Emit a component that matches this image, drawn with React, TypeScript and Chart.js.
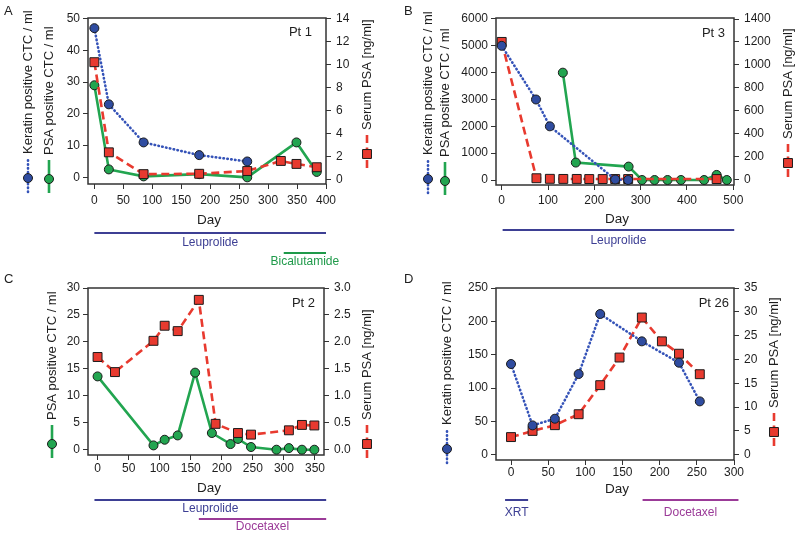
import React, { useEffect, useRef } from 'react';
import { Chart, registerables } from 'chart.js';
Chart.register(...registerables);

// ---------------- DATA ----------------
// Panel A (Pt 1)
const aKerDays = [0, 25, 85, 181, 264];
const aKerVals = [47, 23, 11, 7, 5];
const aPsaDays = [0, 25, 85, 181, 264, 349, 384];
const aPsaVals = [29, 2.5, 0.3, 1.0, 0, 11, 1.7];
const aSerDays = [0, 25, 85, 181, 264, 322, 349, 384];
const aSerVals = [10.2, 2.35, 0.45, 0.48, 0.72, 1.6, 1.34, 1.05];
const aXTicks = [0, 50, 100, 150, 200, 250, 300, 350, 400];
const aYLTicks = [0, 10, 20, 30, 40, 50];
const aYRTicks = [0, 2, 4, 6, 8, 10, 12, 14];
const aTreatNames = ['Leuprolide', 'Bicalutamide'];
const aTreatStart = [0, 327];
const aTreatEnd = [400, 400];

// Panel B (Pt 3)
const bKerDays = [0, 74, 104, 245, 273];
const bKerVals = [5000, 3000, 2000, 20, 0];
const bPsaDays = [132, 160, 274, 303, 330, 358, 387, 437, 464, 486];
const bPsaVals = [4000, 650, 500, 0, 0, 0, 0, 0, 190, 0];
const bSerDays = [0, 75, 104, 133, 162, 189, 218, 245, 273, 464];
const bSerVals = [1200, 9, 4, 3, 3, 2, 2, 2, 2, 2];
const bXTicks = [0, 100, 200, 300, 400, 500];
const bYLTicks = [0, 1000, 2000, 3000, 4000, 5000, 6000];
const bYRTicks = [0, 200, 400, 600, 800, 1000, 1200, 1400];
const bTreatNames = ['Leuprolide'];
const bTreatStart = [2];
const bTreatEnd = [502];

// Panel C (Pt 2)
const cPsaDays = [0, 90, 108, 129, 157, 184, 214, 226, 247, 288, 308, 329, 349];
const cPsaVals = [13.6, 0.8, 1.85, 2.65, 14.3, 3.1, 1.05, 2.0, 0.5, 0, 0.3, 0, 0];
const cSerDays = [0, 28, 90, 108, 129, 163, 190, 226, 247, 308, 329, 349];
const cSerVals = [1.72, 1.44, 2.02, 2.3, 2.2, 2.78, 0.48, 0.31, 0.28, 0.36, 0.46, 0.45];
const cXTicks = [0, 50, 100, 150, 200, 250, 300, 350];
const cYLTicks = [0, 5, 10, 15, 20, 25, 30];
const cYRTicks = [0, 0.5, 1.0, 1.5, 2.0, 2.5, 3.0];
const cTreatNames = ['Leuprolide', 'Docetaxel'];
const cTreatStart = [-5, 163];
const cTreatEnd = [368, 368];

// Panel D (Pt 26)
const dKerDays = [0, 29, 59, 91, 120, 176, 226, 254];
const dKerVals = [136, 44, 54, 121, 211, 170, 138, 80];
const dSerDays = [0, 29, 59, 91, 120, 146, 176, 203, 226, 254];
const dSerVals = [3.7, 5.0, 6.2, 8.5, 14.6, 20.4, 28.8, 23.8, 21.2, 16.9];
const dXTicks = [0, 50, 100, 150, 200, 250, 300];
const dYLTicks = [0, 50, 100, 150, 200, 250];
const dYRTicks = [0, 5, 10, 15, 20, 25, 30, 35];
const dTreatNames = ['XRT', 'Docetaxel'];
const dTreatStart = [-8, 177];
const dTreatEnd = [23, 306];

// ---------------- STYLE ----------------
const FONT = '"Liberation Sans", Arial, Helvetica, sans-serif';
const TXT = '#1e1e1e';
const AXC = '#333333';
const T_BLUE = '#3d3f94';
const T_GREEN = '#1f9a4a';
const T_PURPLE = '#9b3b98';

const STYLE: any = {
  ker: { line: '#3553b8', fill: '#2f4ca0', dash: [0.5, 3.4], cap: 'round', shape: 'circle', r: 4.5, w: 2.6 },
  psa: { line: '#22a550', fill: '#22a550', dash: [], cap: 'butt', shape: 'circle', r: 4.5, w: 2.6 },
  ser: { line: '#e83a2f', fill: '#e83a2f', dash: [8, 4.5], cap: 'butt', shape: 'rect', r: 6.3, w: 2.6 },
};

const TITLE_KER = 'Keratin positive CTC / ml';
const TITLE_PSA = 'PSA positive CTC / ml';
const TITLE_SER = 'Serum PSA [ng/ml]';

function treat(names: string[], starts: number[], ends: number[], colors: string[], lineYs: number[], labelYs: number[]) {
  return names.map((n, i) => ({ name: n, start: starts[i], end: ends[i], color: colors[i], lineY: lineYs[i], labelY: labelYs[i] }));
}

const panels: any[] = [
  {
    letter: 'A', left: 0, top: 0, W: 400, H: 268,
    area: { l: 88, t: 18, r: 326, b: 184 },
    x: { min: -11, max: 400, ticks: aXTicks }, xPad: 4,
    yL: { min: -2.1, max: 50.2, ticks: aYLTicks, dec: 0 },
    yR: { min: -0.41, max: 14.05, ticks: aYRTicks, dec: 0 },
    series: [
      { kind: 'ker', days: aKerDays, vals: aKerVals },
      { kind: 'ser', days: aSerDays, vals: aSerVals },
      { kind: 'psa', days: aPsaDays, vals: aPsaVals },
    ],
    leftTitles: [
      { text: TITLE_KER, kind: 'ker', x: 28, bottom: 192 },
      { text: TITLE_PSA, kind: 'psa', x: 49, bottom: 193 },
    ],
    rightTitle: { text: TITLE_SER, kind: 'ser', x: 367, bottom: 168 },
    pt: { text: 'Pt 1', dx: 14, dy: 14 },
    day: { x: 209, y: 220 },
    treatments: treat(aTreatNames, aTreatStart, aTreatEnd, [T_BLUE, T_GREEN], [233, 253], [243, 262]),
  },
  {
    letter: 'B', left: 400, top: 0, W: 400, H: 268,
    area: { l: 96, t: 18, r: 334, b: 185 },
    x: { min: -12.3, max: 501.5, ticks: bXTicks }, xPad: 3,
    yL: { min: -186, max: 6037, ticks: bYLTicks, dec: 0 },
    yR: { min: -50, max: 1409, ticks: bYRTicks, dec: 0 },
    series: [
      { kind: 'ker', days: bKerDays, vals: bKerVals },
      { kind: 'ser', days: bSerDays, vals: bSerVals },
      { kind: 'psa', days: bPsaDays, vals: bPsaVals },
    ],
    leftTitles: [
      { text: TITLE_KER, kind: 'ker', x: 28, bottom: 193 },
      { text: TITLE_PSA, kind: 'psa', x: 45, bottom: 195 },
    ],
    rightTitle: { text: TITLE_SER, kind: 'ser', x: 388, bottom: 177 },
    pt: { text: 'Pt 3', dx: 9, dy: 15 },
    day: { x: 217, y: 219 },
    treatments: treat(bTreatNames, bTreatStart, bTreatEnd, [T_BLUE], [230], [241]),
  },
  {
    letter: 'C', left: 0, top: 268, W: 400, H: 269,
    area: { l: 88, t: 20, r: 324, b: 187 },
    x: { min: -15.4, max: 364.5, ticks: cXTicks }, xPad: 1,
    yL: { min: -0.98, max: 30, ticks: cYLTicks, dec: 0 },
    yR: { min: -0.098, max: 3.0, ticks: cYRTicks, dec: 1 },
    series: [
      { kind: 'ser', days: cSerDays, vals: cSerVals },
      { kind: 'psa', days: cPsaDays, vals: cPsaVals },
    ],
    leftTitles: [
      { text: TITLE_PSA, kind: 'psa', x: 52, bottom: 190 },
    ],
    rightTitle: { text: TITLE_SER, kind: 'ser', x: 367, bottom: 190 },
    pt: { text: 'Pt 2', dx: 9, dy: 15 },
    day: { x: 209, y: 220 },
    treatments: treat(cTreatNames, cTreatStart, cTreatEnd, [T_BLUE, T_PURPLE], [232, 251], [241, 259]),
  },
  {
    letter: 'D', left: 400, top: 268, W: 400, H: 269,
    area: { l: 96, t: 20, r: 334, b: 192 },
    x: { min: -20.2, max: 300, ticks: dXTicks }, xPad: 0,
    yL: { min: -7.9, max: 250, ticks: dYLTicks, dec: 0 },
    yR: { min: -1.11, max: 35, ticks: dYRTicks, dec: 0 },
    series: [
      { kind: 'ker', days: dKerDays, vals: dKerVals },
      { kind: 'ser', days: dSerDays, vals: dSerVals },
    ],
    leftTitles: [
      { text: TITLE_KER, kind: 'ker', x: 47, bottom: 195 },
    ],
    rightTitle: { text: TITLE_SER, kind: 'ser', x: 374, bottom: 178 },
    pt: { text: 'Pt 26', dx: 5, dy: 15 },
    day: { x: 217, y: 221 },
    treatments: treat(dTreatNames, dTreatStart, dTreatEnd, [T_BLUE, T_PURPLE], [232, 232], [245, 245]),
  },
];

// ---------------- DRAW HELPERS ----------------
function drawMarker(ctx: CanvasRenderingContext2D, kind: string, x: number, y: number) {
  const st = STYLE[kind];
  ctx.save();
  ctx.setLineDash([]);
  ctx.fillStyle = st.fill;
  ctx.strokeStyle = '#1b1b1b';
  ctx.lineWidth = 1;
  ctx.beginPath();
  if (st.shape === 'rect') {
    const s = st.r * Math.SQRT1_2;
    ctx.rect(x - s, y - s, 2 * s, 2 * s);
  } else {
    ctx.arc(x, y, st.r, 0, Math.PI * 2);
  }
  ctx.fill();
  ctx.stroke();
  ctx.restore();
}

function drawVTitle(ctx: CanvasRenderingContext2D, t: any) {
  const st = STYLE[t.kind];
  const symLen = 33, markPos = 14, gap = 5;
  ctx.save();
  ctx.translate(t.x, t.bottom);
  ctx.rotate(-Math.PI / 2);
  ctx.strokeStyle = st.line;
  ctx.lineWidth = st.w;
  ctx.lineCap = st.cap;
  ctx.setLineDash(st.dash);
  ctx.beginPath();
  ctx.moveTo(0, 0);
  ctx.lineTo(symLen, 0);
  ctx.stroke();
  ctx.setLineDash([]);
  drawMarker(ctx, t.kind, markPos, 0);
  ctx.fillStyle = TXT;
  ctx.font = `13px ${FONT}`;
  ctx.textAlign = 'left';
  ctx.textBaseline = 'middle';
  ctx.fillText(t.text, symLen + gap, 0.5);
  ctx.restore();
}

function makeDecor(cfg: any) {
  return {
    id: 'decor',
    beforeDatasetsDraw(chart: any) {
      const a = chart.chartArea;
      const ctx = chart.ctx;
      ctx.save();
      ctx.strokeStyle = AXC;
      ctx.lineWidth = 1.5;
      ctx.strokeRect(a.left, a.top, a.right - a.left, a.bottom - a.top);
      ctx.restore();
    },
    afterDraw(chart: any) {
      const a = chart.chartArea;
      const ctx = chart.ctx;
      const xs = chart.scales.x;
      ctx.save();
      // panel letter
      ctx.fillStyle = TXT;
      ctx.font = `13px ${FONT}`;
      ctx.textAlign = 'left';
      ctx.textBaseline = 'middle';
      ctx.fillText(cfg.letter, 4, 11);
      // patient label
      ctx.textAlign = 'right';
      ctx.fillText(cfg.pt.text, a.right - cfg.pt.dx, a.top + cfg.pt.dy);
      // Day title
      ctx.textAlign = 'center';
      ctx.font = `13.5px ${FONT}`;
      ctx.fillText('Day', cfg.day.x, cfg.day.y);
      // axis titles with legend symbols
      cfg.leftTitles.forEach((t: any) => drawVTitle(ctx, t));
      drawVTitle(ctx, cfg.rightTitle);
      // treatments
      cfg.treatments.forEach((tr: any) => {
        const x0 = xs.getPixelForValue(tr.start);
        const x1 = xs.getPixelForValue(tr.end);
        ctx.strokeStyle = tr.color;
        ctx.lineWidth = 2;
        ctx.setLineDash([]);
        ctx.beginPath();
        ctx.moveTo(x0, tr.lineY);
        ctx.lineTo(x1, tr.lineY);
        ctx.stroke();
        ctx.fillStyle = tr.color;
        ctx.font = `12px ${FONT}`;
        ctx.textAlign = 'center';
        ctx.textBaseline = 'middle';
        ctx.fillText(tr.name, (x0 + x1) / 2, tr.labelY);
      });
      ctx.restore();
    },
  };
}

function Panel({ cfg }: { cfg: any }) {
  const ref = useRef<HTMLCanvasElement>(null);
  useEffect(() => {
    const canvas = ref.current!;
    const { area, W, H } = cfg;
    const wL = 40, wR = 40, hX = 30;
    const datasets = cfg.series.map((s: any) => {
      const st = STYLE[s.kind];
      return {
        data: s.days.map((d: number, i: number) => ({ x: d, y: s.vals[i] })),
        yAxisID: s.kind === 'ser' ? 'yR' : 'yL',
        borderColor: st.line,
        borderWidth: st.w,
        borderDash: st.dash,
        borderCapStyle: st.cap,
        pointStyle: st.shape,
        pointRadius: st.r,
        pointHoverRadius: st.r,
        pointBackgroundColor: st.fill,
        pointBorderColor: '#1b1b1b',
        pointBorderWidth: 1,
        fill: false,
        tension: 0,
        clip: false,
      };
    });
    const zero = (s: any) => { s.paddingLeft = 0; s.paddingRight = 0; s.paddingTop = 0; s.paddingBottom = 0; };
    const fixTicks = (arr: number[]) => (s: any) => { s.ticks = arr.map((v) => ({ value: v })); };
    const tickFont = { family: FONT, size: 12 };
    const grid = { drawOnChartArea: false, drawTicks: true, tickLength: 5, color: AXC, lineWidth: 1 };
    const fmt = (dec: number) => (v: any) => (dec ? Number(v).toFixed(dec) : String(v));
    const chart = new Chart(canvas, {
      type: 'line',
      data: { datasets },
      options: {
        animation: false,
        responsive: false,
        maintainAspectRatio: false,
        devicePixelRatio: 1,
        events: [],
        layout: { padding: { left: area.l - wL, right: W - area.r - wR, top: area.t, bottom: H - area.b - hX } },
        plugins: { legend: { display: false }, tooltip: { enabled: false }, title: { display: false } },
        scales: {
          x: {
            type: 'linear', position: 'bottom', min: cfg.x.min, max: cfg.x.max, bounds: 'data',
            afterBuildTicks: fixTicks(cfg.x.ticks),
            afterFit: (s: any) => { s.height = hX; zero(s); },
            grid, border: { display: false },
            ticks: { font: tickFont, color: TXT, padding: cfg.xPad, autoSkip: false, maxRotation: 0, minRotation: 0, callback: fmt(0) },
          },
          yL: {
            type: 'linear', position: 'left', min: cfg.yL.min, max: cfg.yL.max, bounds: 'data',
            afterBuildTicks: fixTicks(cfg.yL.ticks),
            afterFit: (s: any) => { s.width = wL; zero(s); },
            grid, border: { display: false },
            ticks: { font: tickFont, color: TXT, padding: 3, autoSkip: false, callback: fmt(cfg.yL.dec) },
          },
          yR: {
            type: 'linear', position: 'right', min: cfg.yR.min, max: cfg.yR.max, bounds: 'data',
            afterBuildTicks: fixTicks(cfg.yR.ticks),
            afterFit: (s: any) => { s.width = wR; zero(s); },
            grid, border: { display: false },
            ticks: { font: tickFont, color: TXT, padding: 5, autoSkip: false, callback: fmt(cfg.yR.dec) },
          },
        },
      } as any,
      plugins: [makeDecor(cfg)],
    });
    return () => chart.destroy();
  }, [cfg]);
  return (
    <canvas
      ref={ref}
      width={cfg.W}
      height={cfg.H}
      style={{ position: 'absolute', left: cfg.left, top: cfg.top, width: cfg.W, height: cfg.H }}
    />
  );
}

export default function App() {
  return (
    <div style={{ position: 'absolute', left: 0, top: 0, width: 800, height: 537, background: '#ffffff', overflow: 'hidden' }}>
      {panels.map((p) => (
        <Panel key={p.letter} cfg={p} />
      ))}
    </div>
  );
}
